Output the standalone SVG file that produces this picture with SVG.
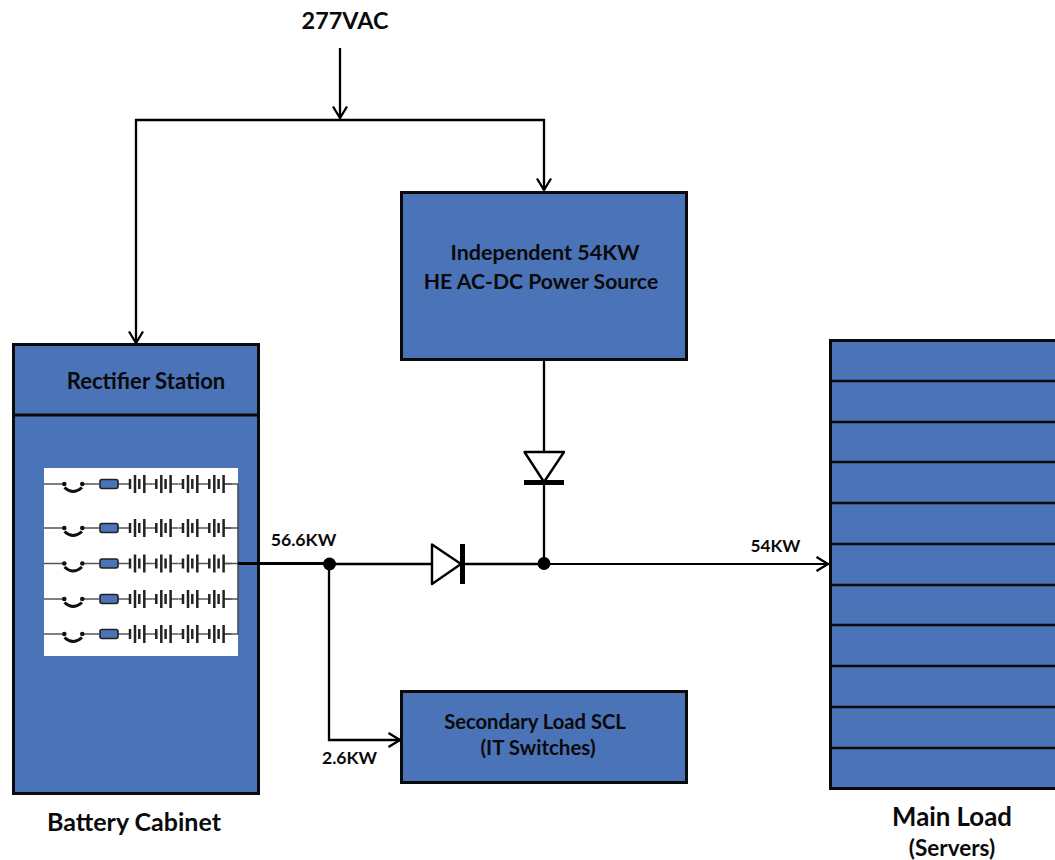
<svg xmlns="http://www.w3.org/2000/svg" width="1055" height="860" viewBox="0 0 1055 860">
<style>
.box{fill:#4a73b8;stroke:#0a0a0a;stroke-width:3}
.w{fill:none;stroke:#000;stroke-width:2.300}
.t{font-family:Lato,"Liberation Sans",sans-serif;font-weight:700;fill:#0a0a0a;text-anchor:middle}
.thin{stroke:#555;stroke-width:1.300;fill:none}
.cell{stroke:#222;stroke-width:2.500;fill:none}
</style>
<defs>
<marker id="arr" viewBox="0 0 14 16" refX="13" refY="8" markerWidth="14" markerHeight="16" markerUnits="userSpaceOnUse" orient="auto"><path d="M1.500 1L13 8L1.500 15" fill="none" stroke="#000" stroke-width="2.300"/></marker>
<g id="cells"><path class="thin" d="M0 0H-4M14.500 0H22.300"/><path class="cell" d="M0 -5V5M5 -9V9M9.300 -5V5M14.300 -9V9"/></g>
<g id="row">
<path class="thin" d="M44 0H64M82 0H99M118 0H126M224 0H238"/>
<circle cx="64.300" cy="0" r="2.300" fill="#111"/><circle cx="82.300" cy="0" r="2.300" fill="#111"/>
<path d="M64.500 3.500Q73 11.500 82 3.500" fill="none" stroke="#111" stroke-width="3"/>
<rect x="100" y="-4.500" width="18" height="9" rx="2" fill="#4a73b8" stroke="#222" stroke-width="1.600"/>
<use href="#cells" x="130"/><use href="#cells" x="156.300"/><use href="#cells" x="183"/><use href="#cells" x="209.300"/>
</g>
</defs>
<rect width="1055" height="860" fill="#fff"/>
<g id="battery-cabinet">
<rect class="box" x="13.500" y="344.500" width="245" height="449"/>
<path d="M13 415H259" stroke="#0a0a0a" stroke-width="3"/>
<text class="t" font-size="22.100" x="146" y="388.500">Rectifier Station</text>
<rect x="44" y="468" width="194" height="188" fill="#fff"/>
<use href="#row" y="484"/><use href="#row" y="528"/><use href="#row" y="563.500"/><use href="#row" y="599"/><use href="#row" y="634"/>
<path d="M238 484V634" stroke="#444" stroke-width="1.500"/>
<text class="t" font-size="25" x="134" y="831">Battery Cabinet</text>
</g>
<g id="power-source">
<rect class="box" x="401.500" y="192.500" width="285" height="167"/>
<text class="t" font-size="21.500" x="545" y="260">Independent 54KW</text>
<text class="t" font-size="21.200" x="541" y="289">HE AC-DC Power Source</text>
</g>
<g id="secondary-load">
<rect class="box" x="401.500" y="691.500" width="285" height="91"/>
<text class="t" font-size="20.200" x="535" y="729">Secondary Load SCL</text>
<text class="t" font-size="20.500" x="538" y="755">(IT Switches)</text>
</g>
<g id="main-load">
<rect class="box" x="830.500" y="340.500" width="230" height="448"/>
<path d="M830 381H1055M830 422H1055M830 462H1055M830 503H1055M830 544H1055M830 585H1055M830 625H1055M830 666H1055M830 707H1055M830 748H1055" stroke="#0a0a0a" stroke-width="2.500"/>
<text class="t" font-size="25.800" x="952" y="826">Main Load</text>
<text class="t" font-size="22.500" x="952" y="856">(Servers)</text>
</g>
<g id="supply-label"><text class="t" font-size="23.400" x="345" y="29">277VAC</text></g>
<g id="connectors">
<path class="w" d="M340 48V118" marker-end="url(#arr)"/>
<path class="w" d="M340 120H136V343" marker-end="url(#arr)"/>
<path class="w" d="M340 120H544V190" marker-end="url(#arr)"/>
<path class="w" d="M544 360V452"/>
<path class="w" d="M544 482V564"/>
<path d="M238 563.500H330" stroke="#000" stroke-width="3" fill="none"/>
<path class="w" d="M330 564H432"/>
<path class="w" d="M462 564H544"/>
<path d="M544 564H828" fill="none" stroke="#000" stroke-width="1.800" marker-end="url(#arr)"/>
<path class="w" d="M329 564V740H400" marker-end="url(#arr)"/>
<circle cx="329.500" cy="564" r="6.500" fill="#000"/>
<circle cx="544" cy="563.500" r="6.500" fill="#000"/>
<path d="M524.500 452H564L544 482Z" fill="#fff" stroke="#000" stroke-width="2.400" stroke-linejoin="round"/>
<path d="M524 482.500H564" stroke="#000" stroke-width="5"/>
<path d="M432 544.500V584L461 564Z" fill="#fff" stroke="#000" stroke-width="2.400" stroke-linejoin="round"/>
<path d="M462.500 544V584" stroke="#000" stroke-width="5"/>
</g>
<g id="connector-labels">
<text class="t" font-size="17.700" x="303.500" y="546">56.6KW</text>
<text class="t" font-size="17.200" x="775.500" y="552">54KW</text>
<text class="t" font-size="17.600" x="349.500" y="764">2.6KW</text>
</g>
</svg>
